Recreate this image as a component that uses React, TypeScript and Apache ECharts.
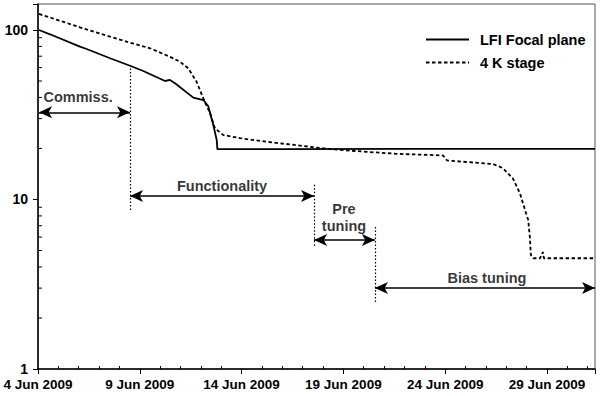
import React, { useEffect, useRef } from "react";
import * as echarts from "echarts";

// x values are days since 4 Jun 2009
const xTickLabels = ["4 Jun 2009", "9 Jun 2009", "14 Jun 2009", "19 Jun 2009", "24 Jun 2009", "29 Jun 2009"];
const yTickLabels = ["1", "10", "100"];
const xMax = 27.36;
const yMax = 142.3;

const lfiDays = [0.05, 0.59, 2.06, 2.39, 3.54, 4.52, 5.17, 6.24, 6.48, 6.73, 7.63, 8.12, 8.36, 8.61, 8.78, 8.81, 12, 18, 24, 27.36];
const lfiTemps = [100, 94.3, 79.7, 77.2, 68.1, 61.5, 57.3, 50.0, 50.7, 48.5, 39.9, 38.6, 35.6, 27.5, 22.4, 19.8, 19.8, 19.9, 19.9, 19.9];

const k4Days = [0.05, 2.06, 3.54, 4.52, 5.5, 6.48, 6.97, 7.38, 7.79, 8.12, 8.45, 8.69, 9.1, 9.92, 11.23, 12.87, 14.18, 16.14, 17.62, 19.89, 20.09, 21.71, 22.35, 22.84, 23.33, 23.67, 23.92, 24.08, 24.16, 24.21, 24.33, 24.66, 24.8, 24.85, 27.36];
const k4Temps = [124.3, 103.7, 91.3, 84.2, 78, 69.5, 65.0, 59.4, 49.5, 39.5, 32.3, 26.3, 24.0, 23.0, 21.9, 20.8, 19.9, 19.1, 18.6, 18.2, 17.0, 16.4, 16.2, 15.3, 13.3, 10.9, 8.7, 7.57, 6.0, 4.7, 4.5, 4.5, 4.9, 4.5, 4.5];

const phaseNames = ["Commiss.", "Functionality", "Pre\ntuning", "Bias tuning"];
const phaseStart = [0.05, 4.52, 13.56, 16.55];
const phaseEnd = [4.52, 13.56, 16.55, 27.36];
const arrowLevel = [32.7, 10.5, 5.77, 3.0];
const labelDay = [1.97, 9.04, 15.03, 22.05];
const labelLevel = [40.3, 12.0, 7.85, 3.44];

const boundaryDay = [4.52, 13.56, 16.55];
const boundaryTop = [62.1, 12.2, 6.88];
const boundaryBottom = [8.67, 5.32, 2.48];

const yMinorTicks = [2, 3, 4, 5, 6, 7, 8, 9, 20, 30, 40, 50, 60, 70, 80, 90];

const FONT = "'Liberation Sans', Arial, sans-serif";

export default function App() {
  const ref = useRef<HTMLDivElement>(null);
  useEffect(() => {
    if (!ref.current) return;
    const chart = echarts.init(ref.current, null, { renderer: "svg" });

    const arrowLines = phaseNames.map((_, i) => [
      { coord: [phaseStart[i], arrowLevel[i]] },
      { coord: [phaseEnd[i], arrowLevel[i]] },
    ]);
    const boundaryLines = boundaryDay.map((d, i) => [
      { coord: [d, boundaryTop[i]] },
      { coord: [d, boundaryBottom[i]] },
    ]);

    chart.setOption({
      animation: false,
      textStyle: { fontFamily: FONT },
      grid: {
        left: 38, right: 5, top: 4, bottom: 27,
        show: true, borderColor: "#555", borderWidth: 1,
      },
      legend: {
        data: ["LFI Focal plane", "4 K stage"],
        orient: "vertical",
        left: 420,
        top: 27,
        itemWidth: 43,
        itemHeight: 14,
        itemGap: 8,
        itemStyle: { opacity: 0, borderWidth: 0 },
        textStyle: { fontFamily: FONT, fontWeight: "bold", fontSize: 14.5, color: "#000", padding: [0, 0, 0, 6] },
      },
      xAxis: {
        type: "value",
        min: 0,
        max: xMax,
        interval: 5,
        splitLine: { show: false },
        axisLine: { lineStyle: { color: "#000", width: 1.5 } },
        axisTick: { length: 5, lineStyle: { color: "#000", width: 1 } },
        minorTick: { show: true, splitNumber: 5, length: -3, lineStyle: { color: "#000", width: 1 } },
        axisLabel: {
          margin: 8,
          color: "#000",
          fontFamily: FONT,
          fontWeight: "bold",
          fontSize: 13.5,
          formatter: (v: number) => {
            const i = Math.round(v / 5);
            return Math.abs(v - i * 5) < 1e-6 && xTickLabels[i] ? xTickLabels[i] : "";
          },
        },
      },
      yAxis: {
        type: "log",
        logBase: 10,
        min: 1,
        max: yMax,
        splitLine: { show: false },
        axisLine: { lineStyle: { color: "#000", width: 1.5 } },
        axisTick: { length: 5, lineStyle: { color: "#000", width: 1 } },
        axisLabel: {
          margin: 10,
          color: "#000",
          fontFamily: FONT,
          fontWeight: "bold",
          fontSize: 14,
          formatter: (v: number) => {
            const e = Math.round(Math.log10(v));
            return Math.abs(Math.log10(v) - e) < 1e-6 && yTickLabels[e] ? yTickLabels[e] : "";
          },
        },
      },
      series: [
        {
          name: "LFI Focal plane",
          type: "line",
          symbol: "none",
          data: lfiDays.map((d, i) => [d, lfiTemps[i]]),
          lineStyle: { color: "#000", width: 1.8 },
          itemStyle: { color: "#000" },
          z: 3,
        },
        {
          name: "4 K stage",
          type: "line",
          symbol: "none",
          data: k4Days.map((d, i) => [d, k4Temps[i]]),
          lineStyle: { color: "#000", width: 1.8, type: [3.5, 2.5] },
          itemStyle: { color: "#000" },
          z: 3,
        },
        {
          name: "phases",
          type: "line",
          data: [],
          symbol: "none",
          markLine: {
            silent: true,
            symbol: ["arrow", "arrow"],
            symbolSize: [9, 13],
            label: { show: false },
            lineStyle: { color: "#000", width: 1.5, type: "solid" },
            emphasis: { disabled: true },
            data: arrowLines,
          },
        },
        {
          name: "boundaries",
          type: "line",
          data: [],
          symbol: "none",
          markLine: {
            silent: true,
            symbol: ["none", "none"],
            label: { show: false },
            lineStyle: { color: "#000", width: 1.2, type: [1.5, 2] },
            emphasis: { disabled: true },
            data: boundaryLines,
          },
        },
        {
          name: "labels",
          type: "scatter",
          symbolSize: 0,
          silent: true,
          data: phaseNames.map((n, i) => [labelDay[i], labelLevel[i], n]),
          label: {
            show: true,
            position: "inside",
            formatter: (p: any) => p.data[2],
            color: "#000",
            fontFamily: FONT,
            fontWeight: "bold",
            fontSize: 14.5,
            lineHeight: 17,
            align: "center",
            verticalAlign: "middle",
          },
        },
        {
          name: "yminor",
          type: "custom",
          silent: true,
          data: yMinorTicks.map((v) => [0, v]),
          renderItem: (params: any, api: any) => {
            const p = api.coord([0, api.value(1)]);
            return {
              type: "line",
              shape: { x1: p[0], y1: p[1], x2: p[0] + 4, y2: p[1] },
              style: { stroke: "#000", lineWidth: 1 },
            };
          },
        },
      ],
    });
    return () => chart.dispose();
  }, []);
  return <div ref={ref} style={{ width: 600, height: 396, position: "absolute", left: 0, top: 0 }} />;
}
